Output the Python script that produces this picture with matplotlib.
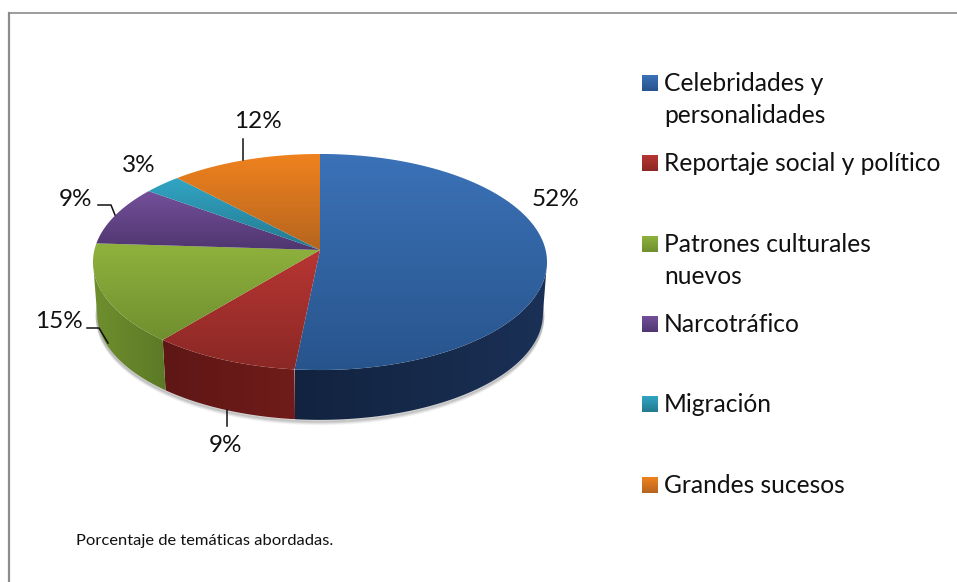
import numpy as np
import matplotlib
matplotlib.use("Agg")
import matplotlib.pyplot as plt
from matplotlib.colors import LinearSegmentedColormap
from matplotlib.patches import Polygon

# datos del grafico
categorias = ["Celebridades y\npersonalidades", "Reportaje social y político",
              "Patrones culturales\nnuevos", "Narcotráfico", "Migración", "Grandes sucesos"]
valores = [51.6, 9.4, 15, 9, 3, 12]

# colores: parte clara y oscura de la cara superior, y del lateral
claros = ["#3b72b8", "#b83633", "#8fb23e", "#74509a", "#31a5c4", "#f0821f"]
oscuros = ["#28548c", "#8a2825", "#6f8f2e", "#4f3670", "#24798f", "#b5651e"]
lateral_a = ["#1a3056", "#701c1a", "#5c7a26", "#3a2850", "#1a5a6a", "#86491a"]
lateral_b = ["#12233f", "#5e1715", "#6f8f2e", "#3a2850", "#1a5a6a", "#86491a"]

plt.rcParams["font.family"] = ["Lato", "DejaVu Sans"]

fig = plt.figure(figsize=(9.57, 5.82), dpi=100)
ax = fig.add_axes([0, 0, 1, 1])


# geometria del pastel 3D (en pixeles de la figura), con perspectiva
CX, CY = 320, 250
A, B, K = 225.6, 106.7, 1 / 9
ALTO = 52
ESCALA_BASE = 0.982


def borde(theta, escala=1.0, dy=0.0):
    u = np.sin(theta)
    v = -np.cos(theta)
    w = 1 - K * v
    return CX + A * escala * u / w, CY + dy + B * escala * v / w


def degradado(ax, poligono, c1, c2, extent, horizontal=False):
    cmap = LinearSegmentedColormap.from_list("g", [c1, c2])
    grad = np.linspace(0, 1, 256)
    grad = grad.reshape(1, -1) if horizontal else grad.reshape(-1, 1)
    im = ax.imshow(grad, cmap=cmap, extent=extent, aspect="auto", zorder=2, interpolation="bilinear")
    parche = Polygon(poligono, closed=True, transform=ax.transData, fc="none", ec="none")
    ax.add_patch(parche)
    im.set_clip_path(parche)


fracciones = np.array(valores) / sum(valores)
cortes = np.concatenate([[0], np.cumsum(fracciones)]) * 2 * np.pi

# limites visibles del lateral (donde la elipse llega a su ancho maximo)
vis_ini = np.arccos(-K)
vis_fin = 2 * np.pi - vis_ini

# sombra bajo el pastel
t = np.linspace(vis_ini - 0.3, vis_fin + 0.3, 200)
for extra, alfa in [(4, 0.08), (3, 0.12), (2, 0.18), (1, 0.25)]:
    xs, ys = borde(t, ESCALA_BASE, ALTO + extra)
    ax.plot(xs, ys, color="#777777", alpha=alfa, lw=2, zorder=1)

# lateral de cada porcion
for i in range(len(valores)):
    t0 = max(cortes[i], vis_ini)
    t1 = min(cortes[i + 1], vis_fin)
    if t1 <= t0:
        continue
    t = np.linspace(t0, t1, 80)
    xa, ya = borde(t)
    xb, yb = borde(t, ESCALA_BASE, ALTO)
    pol = np.column_stack([np.r_[xa, xb[::-1]], np.r_[ya, yb[::-1]]])
    ext = (pol[:, 0].min(), pol[:, 0].max(), pol[:, 1].max(), pol[:, 1].min())
    # de izquierda a derecha
    degradado(ax, pol, lateral_b[i], lateral_a[i], ext, horizontal=True)

# cara superior
for i in range(len(valores)):
    t = np.linspace(cortes[i], cortes[i + 1], 150)
    xs, ys = borde(t)
    pol = np.column_stack([np.r_[CX, xs], np.r_[CY, ys]])
    ext = (pol[:, 0].min(), pol[:, 0].max(), pol[:, 1].max(), pol[:, 1].min())
    degradado(ax, pol, claros[i], oscuros[i], ext)

# etiquetas de porcentaje
pos_etiquetas = [(556, 199), (226, 445), (59, 322), (75, 199), (139, 166), (258, 122)]
for v, (x, y) in zip(valores, pos_etiquetas):
    ax.text(x, y, f"{round(v)}%", ha="center", va="center", fontsize=17.5, color="#111111", zorder=5)

# lineas guia
guias = [
    [(243, 139), (243, 160)],
    [(98, 205), (111, 205), (115, 215)],
    [(87, 328), (99, 328), (108, 343)],
    [(227, 410), (227, 426)],
]
for g in guias:
    g = np.array(g)
    ax.plot(g[:, 0], g[:, 1], color="#111111", lw=1.1, zorder=5)

# leyenda
base_leyenda = [91, 171, 252, 332, 412, 493]
for i, nombre in enumerate(categorias):
    yb = base_leyenda[i]
    cuadro = [(642, yb - 16), (658, yb - 16), (658, yb), (642, yb)]
    degradado(ax, cuadro, claros[i], oscuros[i], (642, 658, yb, yb - 16))
    for j, linea in enumerate(nombre.split("\n")):
        ax.text(664, yb + 32 * j, linea, fontsize=17.75, color="#111111", va="baseline", ha="left", zorder=5)

# pie de grafico
ax.text(76, 545, "Porcentaje de temáticas abordadas.", fontsize=11.85, color="#111111", va="baseline", ha="left")

# marco: solo arriba e izquierda
ax.plot([9, 9], [12.5, 582], color="#8c8c8c", lw=1.6, zorder=6)
ax.plot([9, 957], [12.5, 12.5], color="#8c8c8c", lw=1.2, zorder=6)

ax.set_xlim(0, 957)
ax.set_ylim(582, 0)
ax.axis("off")

fig.savefig("out.png", dpi=100)
